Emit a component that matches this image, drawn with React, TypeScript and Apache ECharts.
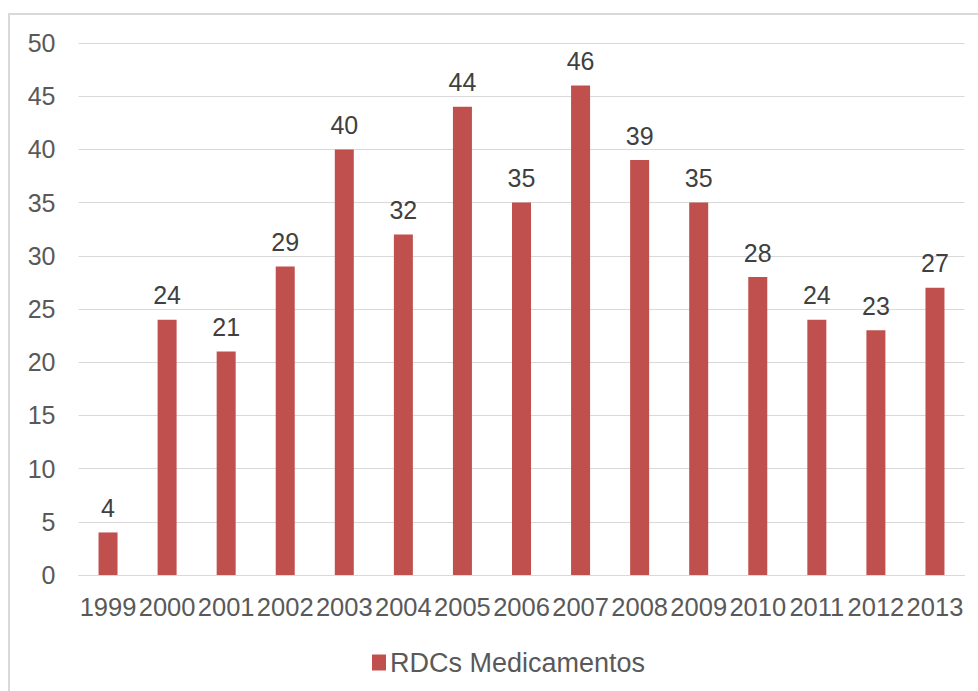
import React, { useEffect, useRef } from "react";
import * as echarts from "echarts";

const categories = ["1999", "2000", "2001", "2002", "2003", "2004", "2005", "2006", "2007", "2008", "2009", "2010", "2011", "2012", "2013"];
const values = [4, 24, 21, 29, 40, 32, 44, 35, 46, 39, 35, 28, 24, 23, 27];
const seriesName = "RDCs Medicamentos";

export default function App() {
  const ref = useRef<HTMLDivElement>(null);
  useEffect(() => {
    if (!ref.current) return;
    const chart = echarts.init(ref.current, null, { renderer: "svg" });
    const font = "'Liberation Sans', Arial, sans-serif";
    chart.setOption({
      animation: false,
      backgroundColor: "#ffffff",
      textStyle: { fontFamily: font },
      graphic: [
        {
          type: "rect",
          shape: { x: 9, y: 14, width: 1000, height: 700 },
          style: { fill: "none", stroke: "#d9d9d9", lineWidth: 2 },
          silent: true,
          z: -1,
        },
      ],
      grid: { left: 78.5, right: 13.5, top: 43, bottom: 116, containLabel: false },
      legend: {
        data: [seriesName],
        top: 644,
        left: 367,
        icon: "rect",
        itemWidth: 14,
        itemHeight: 16,
        itemGap: 6,
        textStyle: { fontSize: 27, color: "#595959", fontFamily: font, padding: [0, 0, 0, -1] },
      },
      xAxis: {
        type: "category",
        data: categories,
        axisLine: { lineStyle: { color: "#d9d9d9", width: 1 } },
        axisTick: { show: false },
        axisLabel: { fontSize: 25.5, color: "#595959", margin: 19, interval: 0, fontFamily: font },
      },
      yAxis: {
        type: "value",
        min: 0,
        max: 50,
        interval: 5,
        axisLine: { show: false },
        axisTick: { show: false },
        splitLine: { lineStyle: { color: "#d9d9d9", width: 1 } },
        axisLabel: { fontSize: 25, color: "#595959", margin: 23, fontFamily: font },
      },
      series: [
        {
          name: seriesName,
          type: "bar",
          data: values,
          barWidth: 19,
          itemStyle: { color: "#c0504d" },
          label: {
            show: true,
            position: "top",
            distance: 12,
            fontSize: 25,
            color: "#404040",
            fontFamily: font,
          },
        },
      ],
    });
    return () => chart.dispose();
  }, []);
  return (
    <div style={{ position: "fixed", left: 0, top: 0, width: 978, height: 691, background: "#fff" }}>
      <div ref={ref} style={{ width: 978, height: 691 }} />
    </div>
  );
}
